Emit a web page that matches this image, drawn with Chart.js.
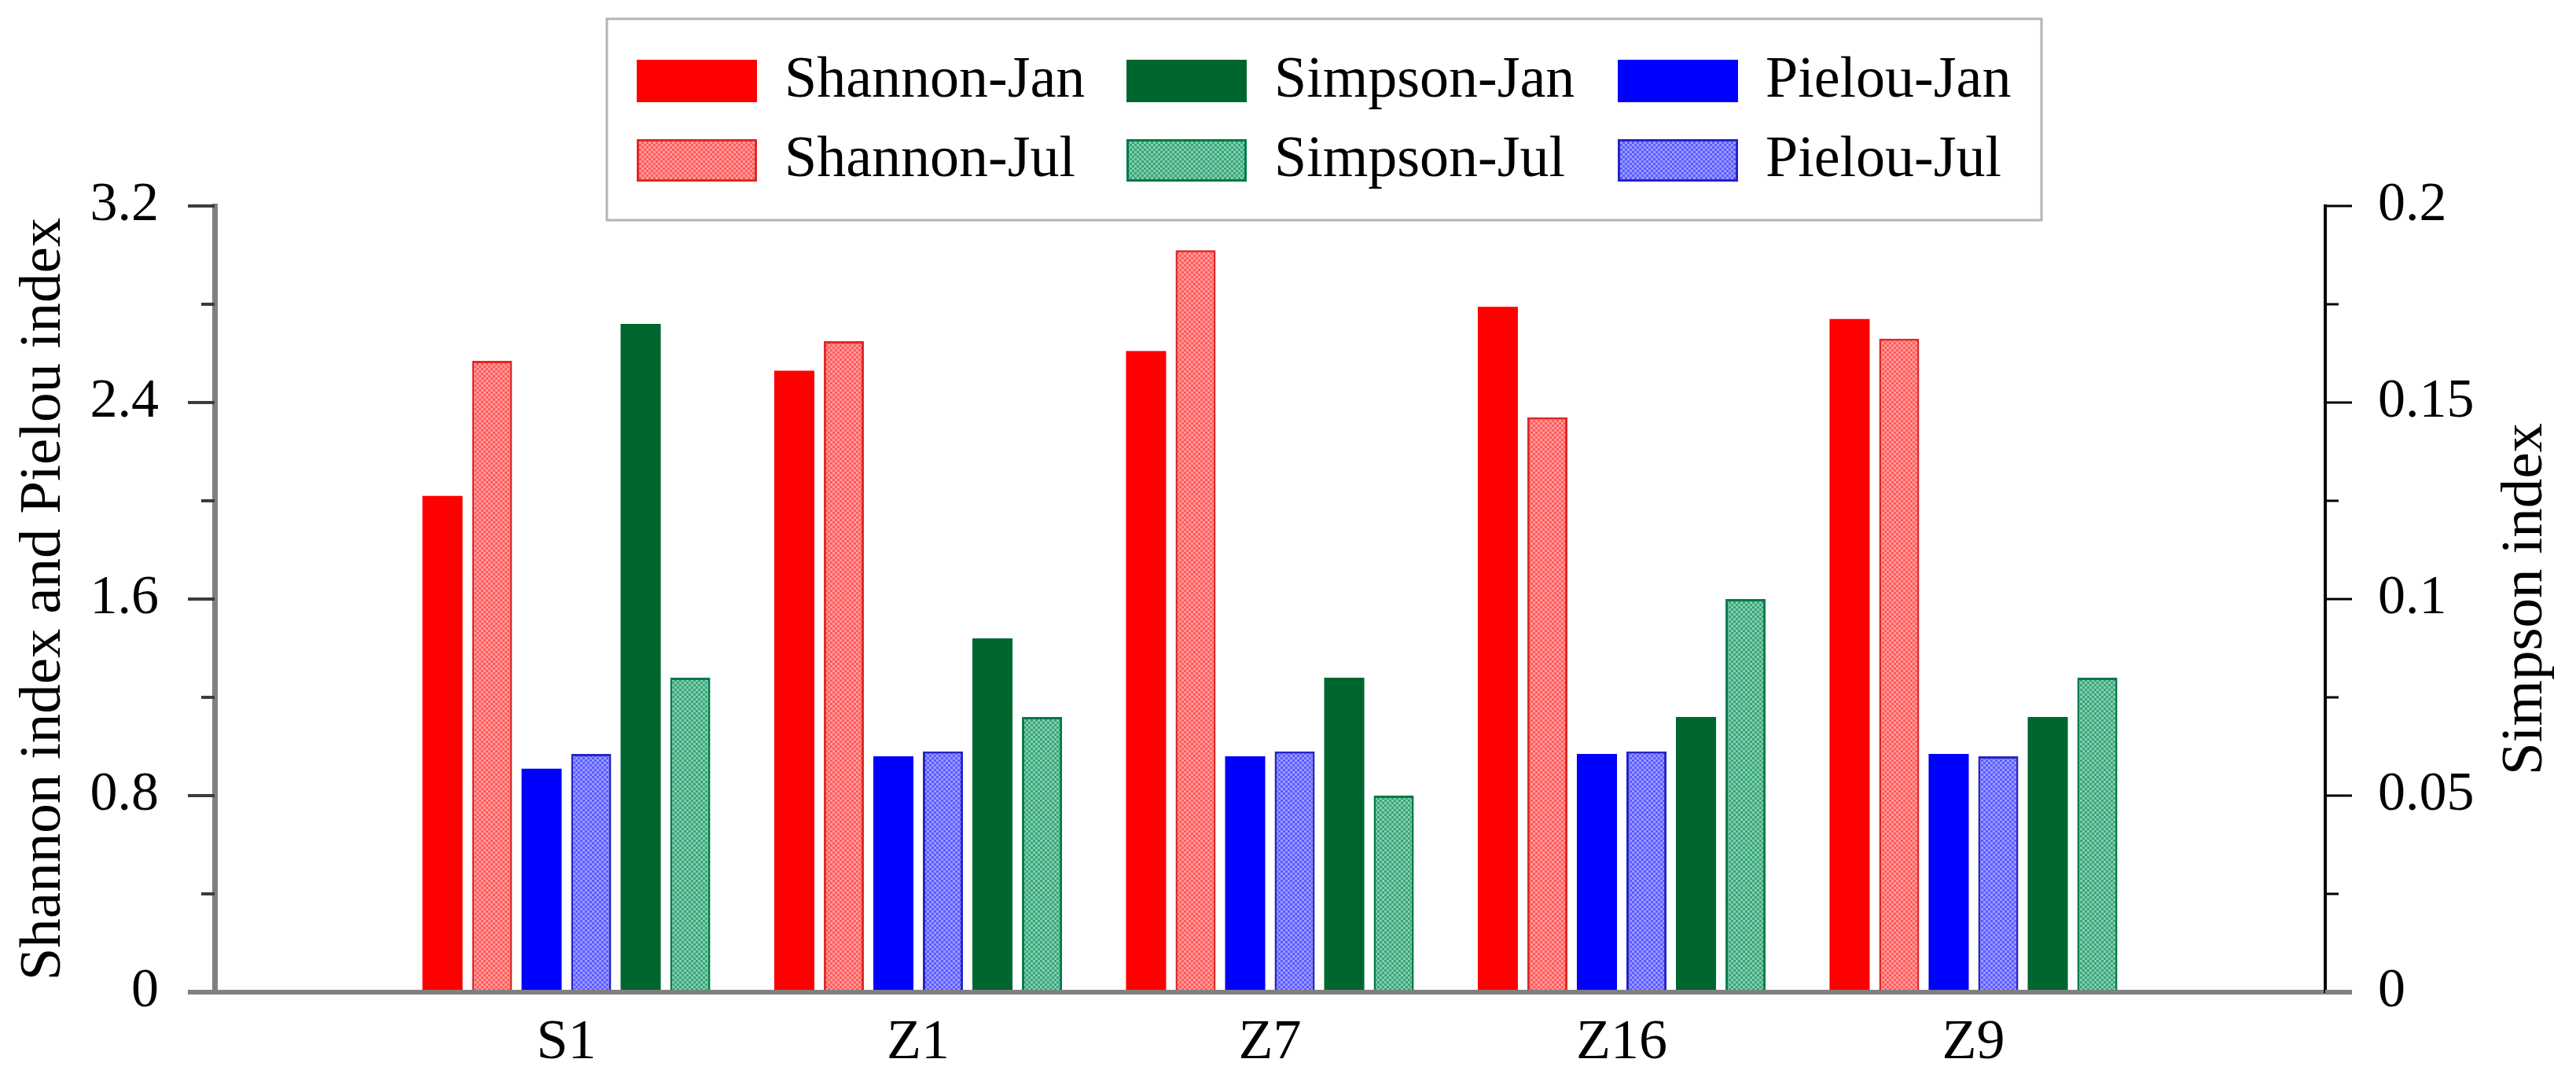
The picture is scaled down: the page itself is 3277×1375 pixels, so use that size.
<!DOCTYPE html>
<html>
<head>
<meta charset="utf-8">
<title>Shannon, Simpson and Pielou indices</title>
<script src="https://cdn.jsdelivr.net/npm/chart.js@4.4.1/dist/chart.umd.min.js"></script>
<style>
  html, body { margin: 0; padding: 0; background: #fff; }
  .chart-wrap { position: relative; width: 3277px; height: 1375px; }
</style>
</head>
<body>
<div class="chart-wrap"><canvas id="diversityChart"></canvas></div>
<script>
// Sampling sites and index values
const categories = ['S1', 'Z1', 'Z7', 'Z16', 'Z9'];
const shannonJan = [2.02, 2.53, 2.61, 2.79, 2.74];
const shannonJul = [2.57, 2.65, 3.02, 2.34, 2.66];
const pielouJan = [0.91, 0.96, 0.96, 0.97, 0.97];
const pielouJul = [0.97, 0.98, 0.98, 0.98, 0.96];
const simpsonJan = [0.17, 0.09, 0.08, 0.07, 0.07];
const simpsonJul = [0.08, 0.07, 0.05, 0.10, 0.08];

// Labelled ticks on each value axis
const leftTicks = [0, 0.8, 1.6, 2.4, 3.2];
const rightTicks = [0, 0.05, 0.1, 0.15, 0.2];

const FONT = '"Liberation Serif", "Times New Roman", serif';
const AXIS_GREY = '#808080';

document.addEventListener('DOMContentLoaded', () => {
  const canvas = document.getElementById('diversityChart');
  const ctx = canvas.getContext('2d');

  // Fine checker pattern used for the July bars
  const checker = (c1, c2) => {
    const tile = document.createElement('canvas');
    tile.width = 6;
    tile.height = 6;
    const t = tile.getContext('2d');
    t.fillStyle = c1;
    t.fillRect(0, 0, 6, 6);
    t.fillStyle = c2;
    t.fillRect(0, 0, 3, 3);
    t.fillRect(3, 3, 3, 3);
    return ctx.createPattern(tile, 'repeat');
  };

  // Pad the site list so that the groups sit one slot in from each axis
  const labels = ['', ...categories, ''];
  const pad = (arr) => [null, ...arr, null];

  const solid = (label, values, color, axis) => ({
    label, data: pad(values), yAxisID: axis,
    backgroundColor: color, borderWidth: 0,
  });
  const hatched = (label, values, c1, c2, edge, axis) => ({
    label, data: pad(values), yAxisID: axis,
    backgroundColor: checker(c1, c2), borderColor: edge, borderWidth: 3,
  });

  const datasets = [
    solid('Shannon-Jan', shannonJan, '#ff0000', 'y'),
    hatched('Shannon-Jul', shannonJul, '#ff9a9a', '#ff5c5c', '#e02828', 'y'),
    solid('Pielou-Jan', pielouJan, '#0000ff', 'y'),
    hatched('Pielou-Jul', pielouJul, '#9a9aff', '#5c5cff', '#2424c8', 'y'),
    solid('Simpson-Jan', simpsonJan, '#006630', 'y1'),
    hatched('Simpson-Jul', simpsonJul, '#80cfae', '#3aa57a', '#007a4a', 'y1'),
  ];

  const isMajor = (v, list) => list.some((m) => Math.abs(m - v) < 1e-9);
  const fmt = (v) => String(Number(v.toFixed(4)));

  // Framed legend, three columns by two rows
  const legendGrid = [
    ['Shannon-Jan', 'Simpson-Jan', 'Pielou-Jan'],
    ['Shannon-Jul', 'Simpson-Jul', 'Pielou-Jul'],
  ];
  const boxLegend = {
    id: 'boxLegend',
    afterDraw(chart) {
      const c = chart.ctx;
      c.save();
      c.strokeStyle = '#b4b4b4';
      c.lineWidth = 3;
      c.strokeRect(772, 24, 1825, 256);
      const colX = [810, 1433, 2058];
      const rowY = [76, 177];
      c.font = '74px ' + FONT;
      c.textBaseline = 'middle';
      c.textAlign = 'left';
      legendGrid.forEach((row, r) => {
        row.forEach((name, col) => {
          const ds = chart.data.datasets.find((d) => d.label === name);
          const x = colX[col];
          const y = rowY[r];
          c.fillStyle = ds.backgroundColor;
          c.fillRect(x, y, 153, 54);
          if (ds.borderWidth) {
            c.strokeStyle = ds.borderColor;
            c.lineWidth = ds.borderWidth;
            c.strokeRect(x + 1.5, y + 1.5, 150, 51);
          }
          c.fillStyle = '#000';
          c.fillText(name, x + 188, y + 28);
        });
      });
      c.restore();
    },
  };

  // Major and minor tick marks plus the two axis titles
  const axisDecor = {
    id: 'axisDecor',
    afterDraw(chart) {
      const c = chart.ctx;
      const { left, right, top, bottom } = chart.chartArea;
      c.save();
      const marks = (scale, x0, dir, majors, color, width) => {
        scale.ticks.forEach((t) => {
          const y = scale.getPixelForValue(t.value);
          const len = isMajor(t.value, majors) ? 34 : 17;
          c.strokeStyle = t.value === 0 ? AXIS_GREY : color;
          c.lineWidth = t.value === 0 ? 6 : width;
          c.beginPath();
          c.moveTo(x0, y);
          c.lineTo(x0 + dir * len, y);
          c.stroke();
        });
      };
      marks(chart.scales.y, left, -1, leftTicks, '#3c3c3c', 4);
      marks(chart.scales.y1, right, 1, rightTicks, '#000', 3);

      c.fillStyle = '#000';
      c.font = '75px ' + FONT;
      c.textAlign = 'center';
      c.textBaseline = 'middle';
      const mid = (top + bottom) / 2;
      [[56, 'Shannon index and Pielou index'], [3213, 'Simpson index']].forEach(([x, text]) => {
        c.save();
        c.translate(x, mid);
        c.rotate(-Math.PI / 2);
        c.fillText(text, 0, 0);
        c.restore();
      });
      c.restore();
    },
  };

  new Chart(ctx, {
    type: 'bar',
    data: { labels, datasets },
    plugins: [boxLegend, axisDecor],
    options: {
      responsive: true,
      maintainAspectRatio: false,
      devicePixelRatio: 1,
      animation: false,
      color: '#000',
      categoryPercentage: 0.845,
      barPercentage: 0.81,
      layout: { padding: { top: 262, left: 0, right: 0, bottom: 0 } },
      plugins: {
        legend: { display: false },
        tooltip: { enabled: false },
      },
      scales: {
        x: {
          offset: false,
          grid: { display: false },
          border: { display: true, color: AXIS_GREY, width: 6, z: 1 },
          ticks: {
            color: '#000',
            font: { family: FONT, size: 72 },
            padding: 14,
            autoSkip: false,
            maxRotation: 0,
          },
          afterFit: (scale) => { scale.height = 105; },
        },
        y: {
          position: 'left',
          min: leftTicks[0],
          max: leftTicks[leftTicks.length - 1],
          grid: { drawOnChartArea: false, drawTicks: false },
          border: { display: true, color: AXIS_GREY, width: 7, z: 1 },
          ticks: {
            stepSize: (leftTicks[1] - leftTicks[0]) / 2,
            color: '#000',
            font: { family: FONT, size: 70 },
            padding: 71,
            callback: (v) => (isMajor(v, leftTicks) ? fmt(v) : ''),
          },
          afterFit: (scale) => { scale.width = 273; },
        },
        y1: {
          position: 'right',
          min: rightTicks[0],
          max: rightTicks[rightTicks.length - 1],
          grid: { drawOnChartArea: false, drawTicks: false },
          border: { display: true, color: '#000', width: 4, z: 1 },
          ticks: {
            stepSize: (rightTicks[1] - rightTicks[0]) / 2,
            color: '#000',
            font: { family: FONT, size: 70 },
            padding: 67,
            callback: (v) => (isMajor(v, rightTicks) ? fmt(v) : ''),
          },
          afterFit: (scale) => { scale.width = 3277 - 2958; },
        },
      },
    },
  });
});
</script>
</body>
</html>
